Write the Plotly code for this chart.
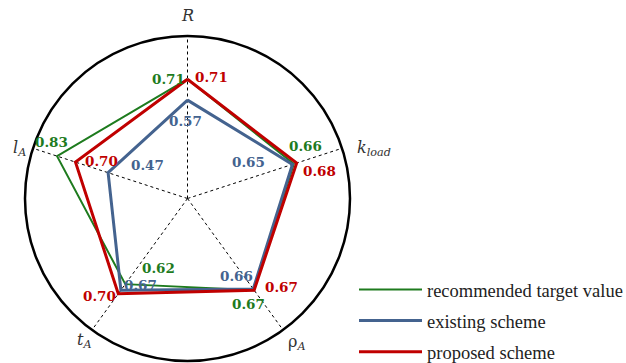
import math
import plotly.graph_objects as go

# Evaluation indicators (clockwise from the top)
indicators = ["R", "k_load", "rho_A", "t_A", "l_A"]
indicator_labels = ["<i>R</i>", "<i>k</i><sub><i>load</i></sub>", "ρ<sub><i>A</i></sub>",
                    "<i>t</i><sub><i>A</i></sub>", "<i>l</i><sub><i>A</i></sub>"]

series_names = ["recommended target value", "existing scheme", "proposed scheme"]
target_values = [0.71, 0.66, 0.67, 0.62, 0.83]
existing_values = [0.57, 0.65, 0.66, 0.67, 0.47]
proposed_values = [0.71, 0.68, 0.67, 0.70, 0.70]

colors = ["#1e7b1e", "#44638f", "#c00000"]
widths = [2, 3, 3]

# pixel nudges (dx right, dy down) of each value label away from its vertex
label_nudges = [
    [(-19, 0), (12, -18), (-6, 14), (33, -16), (-6, -14)],
    [(-2, 21), (-44, -2), (-17, -13), (20, -5), (39, -8)],
    [(24, -2), (23, 8), (27, -3), (-19, 2), (26, -1)],
]
# nudges and anchors of the indicator names, relative to where each spoke meets the rim
axis_label_style = [
    dict(dx=0, dy=-9, xanchor="center", yanchor="bottom"),
    dict(dx=13, dy=0, xanchor="left", yanchor="middle"),
    dict(dx=14, dy=13, xanchor="center", yanchor="middle"),
    dict(dx=-7, dy=11, xanchor="center", yanchor="middle"),
    dict(dx=-5, dy=0, xanchor="right", yanchor="middle"),
]

W, H = 626, 363
cx, cy, rad = 187.5, 198.5, 162.5
r_min, r_max = -0.09, 1.0


def spoke_angle(k):
    return math.radians(90 - 360 / len(indicators) * k)


def to_paper(value, k):
    rp = (value - r_min) / (r_max - r_min) * rad
    a = spoke_angle(k)
    return (cx + rp * math.cos(a)) / W, 1 - (cy - rp * math.sin(a)) / H


fig = go.Figure()
all_values = [target_values, existing_values, proposed_values]

for i, (name, vals) in enumerate(zip(series_names, all_values)):
    fig.add_trace(go.Scatterpolar(
        r=vals + vals[:1],
        theta=indicators + indicators[:1],
        mode="lines",
        line=dict(color=colors[i], width=widths[i]),
        name=name,
        legendgroup=name,
        hoverinfo="skip",
    ))

annotations = []
for i, vals in enumerate(all_values):
    for k, v in enumerate(vals):
        x, y = to_paper(v, k)
        dx, dy = label_nudges[i][k]
        annotations.append(dict(
            x=x, y=y, xref="paper", yref="paper", showarrow=False,
            text=f"<b>{v:.2f}</b>", xanchor="center", yanchor="middle",
            xshift=dx, yshift=-dy,
            font=dict(family="DejaVu Serif", size=13.5, color=colors[i]),
        ))

for k, lab in enumerate(indicator_labels):
    x, y = to_paper(r_max, k)
    st = axis_label_style[k]
    annotations.append(dict(
        x=x, y=y, xref="paper", yref="paper", showarrow=False,
        text=lab, xanchor=st["xanchor"], yanchor=st["yanchor"],
        xshift=st["dx"], yshift=-st["dy"],
        font=dict(family="DejaVu Serif", size=16, color="#333"),
    ))

fig.update_layout(
    width=W, height=H,
    margin=dict(l=0, r=0, t=0, b=0, autoexpand=False),
    paper_bgcolor="white",
    showlegend=True,
    annotations=annotations,
    legend=dict(
        x=354 / W, y=1 - 271 / H, xanchor="left", yanchor="top",
        font=dict(family="Liberation Serif", size=18.5, color="#222"),
        traceorder="grouped", tracegroupgap=4, itemwidth=63,
        bgcolor="rgba(0,0,0,0)",
    ),
    polar=dict(
        domain=dict(x=[(cx - rad) / W, (cx + rad) / W],
                    y=[1 - (cy + rad) / H, 1 - (cy - rad) / H]),
        bgcolor="white",
        radialaxis=dict(visible=False, range=[r_min, r_max], showgrid=False),
        angularaxis=dict(
            rotation=90, direction="clockwise",
            categoryorder="array", categoryarray=indicators,
            showticklabels=False, ticks="",
            showline=True, linecolor="black", linewidth=2.5,
            showgrid=True, gridcolor="black", gridwidth=1, griddash="dot",
        ),
    ),
)

fig.write_html("out.html")
